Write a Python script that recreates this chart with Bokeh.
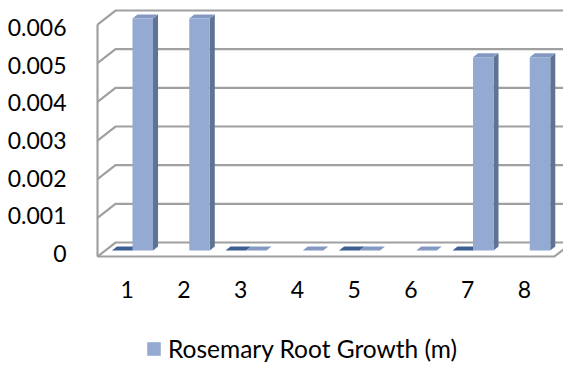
from bokeh.plotting import figure
from bokeh.models import (Range1d, LinearAxis, FixedTicker, NumeralTickFormatter,
                          Legend, LegendItem, ColumnDataSource)
from bokeh.core.properties import value
from bokeh.embed import file_html
from bokeh.resources import INLINE

# ---- data -------------------------------------------------------------
categories = ["1", "2", "3", "4", "5", "6", "7", "8"]
rosemary_growth = [0.006, 0.006, 0.0, 0.0, 0.0, 0.0, 0.005, 0.005]
companion_growth = [0.0, None, 0.0, None, 0.0, None, 0.0, None]
y_ticks = [0.0, 0.001, 0.002, 0.003, 0.004, 0.005, 0.006]
series_label = "Rosemary Root Growth (m)"

# ---- layout / style ---------------------------------------------------
FONT = "Lato"
FONT_SIZE = "23px"
LEGEND_FONT_SIZE = "24.5px"
W, H = 563, 366
LEFT = 80
FW, FH = W - LEFT, H

KX = 56.75              # px per category
KY = 232 / 0.006        # px per metre on the bar plane
LABEL_KY = 226 / 0.006  # px per metre for the value labels
FIRST_LABEL_PX = 46.7   # first category label, px from frame left
ZERO_PX = 116           # zero on the bar plane, px above the bottom edge
LABEL_ZERO_PX = 113     # zero value label, px above the bottom edge
CAT_LABEL_DROP = 39     # category labels, px below the bar-plane zero

DEPTH = (18.0, -14.0)   # oblique depth of the box in px (y downward)
F_FRONT, F_BACK = -0.43, 0.57   # wall planes relative to the bars' front faces
F_BAR = 0.28            # depth of a column
BAR_SHIFT = 5.3 / KX    # columns sit a little behind the labels
BAR_W = 20.5 / KX
BOX_LO, BOX_HI = 0.52, 8.57

GRID = "#a0a0a0"
LIGHT = dict(front="#94aad2", side="#5f7493", top="#8399c1")
DARK = dict(front="#3c5f95", side="#2e4770", top="#3d5f93")

x0 = 1 - FIRST_LABEL_PX / KX
x_range = Range1d(x0, x0 + FW / KX)
y_range = Range1d(-ZERO_PX / KY, (FH - ZERO_PX) / KY)


def P(u, v, f):
    """Oblique projection: category u, value v, depth f -> data coords."""
    return (u + BAR_SHIFT + f * DEPTH[0] / KX, v - f * DEPTH[1] / KY)


p = figure(width=W, height=H, x_range=x_range, y_range=y_range,
           output_backend="svg", toolbar_location=None,
           y_axis_location=None, x_axis_location=None,
           min_border_left=LEFT, min_border_right=0, min_border_top=0,
           min_border_bottom=0, outline_line_color=None,
           background_fill_color="white", border_fill_color="white")
p.grid.visible = False

# value axis on its own range so the labels sit beside the front edge
lab_start = -LABEL_ZERO_PX / LABEL_KY
p.extra_y_ranges = {"labels": Range1d(lab_start, lab_start + FH / LABEL_KY)}
yax = LinearAxis(y_range_name="labels", ticker=FixedTicker(ticks=y_ticks),
                 formatter=NumeralTickFormatter(format="0.[000]"))
yax.axis_line_color = None
yax.major_tick_line_color = None
yax.minor_tick_line_color = None
yax.major_label_standoff = 8
yax.major_label_text_font = FONT
yax.major_label_text_font_size = FONT_SIZE
yax.major_label_text_color = "black"
p.add_layout(yax, "left")

# ---- box: walls, floor, gridlines ----------------------------------------
top = y_ticks[-1]
gx, gy = [], []
for t in y_ticks:
    pts = [P(BOX_LO, t, F_FRONT), P(BOX_LO, t, F_BACK), P(BOX_HI, t, F_BACK)]
    gx.append([q[0] for q in pts])
    gy.append([q[1] for q in pts])
# front edge of the side wall and front/right edges of the floor
edges = [[P(BOX_LO, 0, F_FRONT), P(BOX_LO, top, F_FRONT)],
         [P(BOX_LO, 0, F_FRONT), P(BOX_HI, 0, F_FRONT), P(BOX_HI, 0, F_BACK)]]
for e in edges:
    gx.append([q[0] for q in e])
    gy.append([q[1] for q in e])
p.multi_line(gx, gy, line_color=GRID, line_width=2.2, line_join="miter")

# ---- category labels under the floor --------------------------------------
cat_x = [i + 1 for i in range(len(categories))]
cat_y = [-CAT_LABEL_DROP / KY] * len(categories)
p.text(x=cat_x, y=cat_y, text=categories, text_align="center",
       text_baseline="middle", text_font=value(FONT),
       text_font_size=FONT_SIZE, text_color="black")


# ---- columns -------------------------------------------------------------
def draw_series(values, lo_off, colors):
    sides_x, sides_y, tops_x, tops_y = [], [], [], []
    fx, ft = [], []
    for i, v in enumerate(values):
        if v is None:
            continue
        c = i + 1
        lo, hi = c + lo_off, c + lo_off + BAR_W
        side = [P(hi, 0, 0), P(hi, v, 0), P(hi, v, F_BAR), P(hi, 0, F_BAR)]
        lid = [P(lo, v, 0), P(hi, v, 0), P(hi, v, F_BAR), P(lo, v, F_BAR)]
        sides_x.append([q[0] for q in side]); sides_y.append([q[1] for q in side])
        tops_x.append([q[0] for q in lid]); tops_y.append([q[1] for q in lid])
        fx.append((lo + hi) / 2 + BAR_SHIFT)
        ft.append(v)
    p.patches(sides_x, sides_y, fill_color=colors["side"], line_color=None)
    p.patches(tops_x, tops_y, fill_color=colors["top"], line_color=None)
    src = ColumnDataSource(dict(x=fx, top=ft))
    return p.vbar(x="x", top="top", bottom=0, width=BAR_W, source=src,
                  fill_color=colors["front"], line_color=None)


draw_series(companion_growth, -BAR_W, DARK)
rosemary = draw_series(rosemary_growth, 0.0, LIGHT)

legend = Legend(items=[LegendItem(label=series_label, renderers=[rosemary])],
                location=(65, 3), orientation="horizontal",
                border_line_color=None, background_fill_alpha=0,
                padding=0, margin=0, glyph_width=17, glyph_height=17,
                label_standoff=6, label_text_font=FONT,
                label_text_font_size=LEGEND_FONT_SIZE,
                label_text_color="black")
p.add_layout(legend)

open("out.html", "w").write(file_html(p, INLINE))
